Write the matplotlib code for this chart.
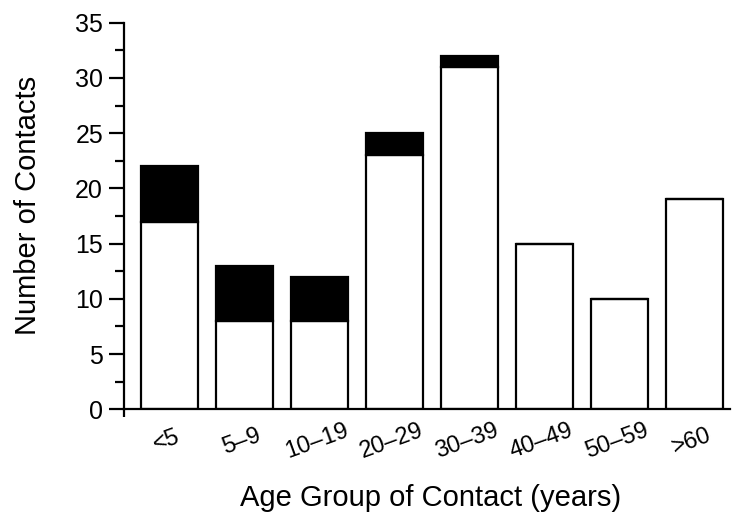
import matplotlib
matplotlib.use("Agg")
import matplotlib.pyplot as plt
from matplotlib.transforms import ScaledTranslation
import numpy as np

categories = ["<5", "5\u20139", "10\u201319", "20\u201329", "30\u201339", "40\u201349", "50\u201359", ">60"]
white_vals = [17, 8, 8, 23, 31, 15, 10, 19]
black_vals = [5, 5, 4, 2, 1, 0, 0, 0]

plt.rcParams['font.family'] = ['Liberation Sans', 'DejaVu Sans']

fig = plt.figure(figsize=(7.33, 5.19), dpi=100)
ax = fig.add_axes([0.169, 0.2114, 0.827, 0.7449])

x = np.arange(len(categories))
ax.bar(x, white_vals, width=0.76, color='white', edgecolor='black', linewidth=1.6, zorder=2)
ax.bar(x, black_vals, width=0.76, bottom=white_vals, color='black', edgecolor='black', linewidth=1.6, zorder=3)

ax.set_xlim(-0.613, 7.47)
ax.set_ylim(0, 35)

for s in ['top', 'right']:
    ax.spines[s].set_visible(False)
for s in ['left', 'bottom']:
    ax.spines[s].set_linewidth(1.6)

ax.set_yticks(np.arange(0, 36, 5))
ax.set_yticks(np.arange(2.5, 35, 5), minor=True)
ax.tick_params(axis='y', which='major', length=11, width=1.6, labelsize=18, pad=4)
ax.tick_params(axis='y', which='minor', length=6.5, width=1.6)

ax.set_xticks(x)
ax.set_xticklabels(categories, rotation=20, ha='center', va='center', rotation_mode='anchor', fontsize=17)
ax.set_xticks([-0.613], minor=True)
ax.tick_params(axis='x', which='major', length=0, pad=23)
ax.tick_params(axis='x', which='minor', length=6, width=1.6)
off = ScaledTranslation(-3 / 100, 0, fig.dpi_scale_trans)
for lbl in ax.get_xticklabels():
    lbl.set_transform(lbl.get_transform() + off)

fig.text(431 / 733, 1 - 498 / 519, "Age Group of Contact (years)", fontsize=21, ha='center', va='center')
fig.text(28 / 733, 1 - 205 / 519, "Number of Contacts", fontsize=21, ha='center', va='center', rotation=90)

fig.savefig("out.png", dpi=100)
